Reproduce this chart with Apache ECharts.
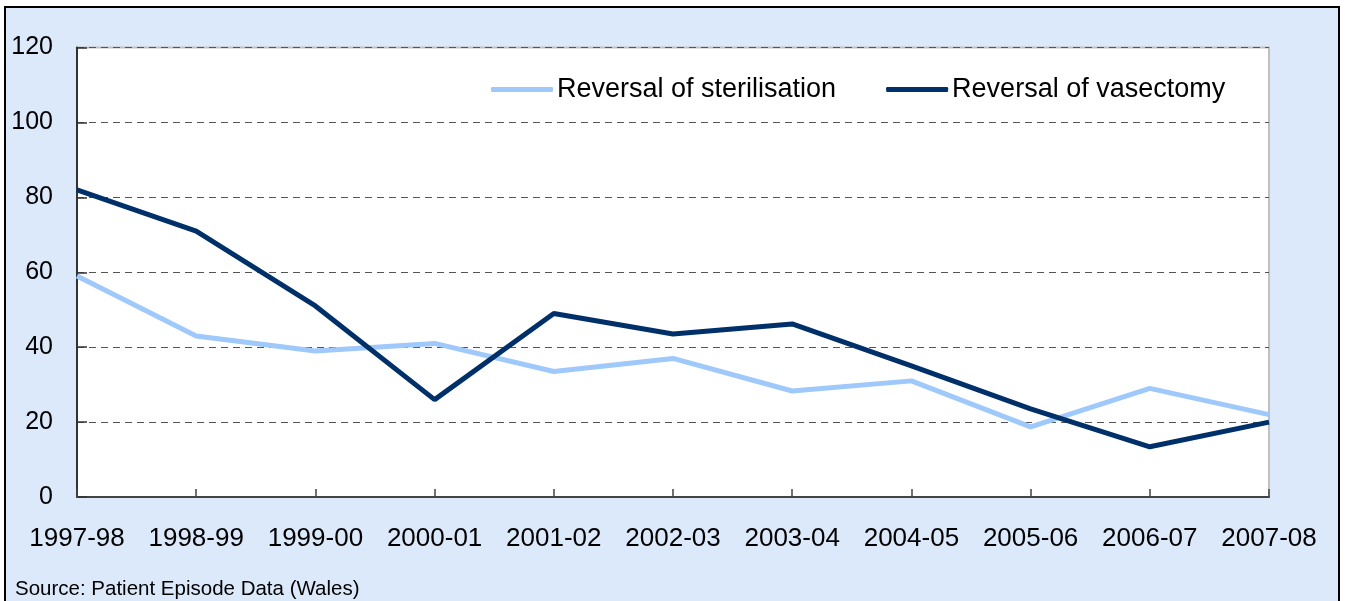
<!DOCTYPE html>
<html>
<head>
<meta charset="utf-8">
<script src="https://cdn.jsdelivr.net/npm/echarts@6/dist/echarts.min.js"></script>
<style>
    html, body { margin: 0; padding: 0; background: #fff; overflow: hidden; }
    #chart {
        position: absolute;
        left: 4px;
        top: 6px;
        width: 1332px;
        height: 600px;
        border: 2px solid #000;
    }
</style>
</head>
<body>
<div id="chart"></div>
<script>
const years = ['1997-98', '1998-99', '1999-00', '2000-01', '2001-02', '2002-03', '2003-04', '2004-05', '2005-06', '2006-07', '2007-08'];
const sterilisation = [59, 43, 39, 41, 33.5, 37, 28.3, 31, 18.7, 29, 22];
const vasectomy = [82, 71, 51, 26, 49, 43.5, 46.2, 35, 23.5, 13.4, 20];
const seriesNames = ['Reversal of sterilisation', 'Reversal of vasectomy'];
const sourceNote = 'Source: Patient Episode Data (Wales)';

const font = 'Arial, "Liberation Sans", sans-serif';

function init() {
    const option = {
        animation: false,
        backgroundColor: '#dce9fb',
        color: ['#9fc8fb', '#003069'],
        grid: {
            left: 71,
            top: 39.5,
            right: 69,
            bottom: 111,
            show: true,
            backgroundColor: '#fff',
            borderColor: '#c0c0c0',
            borderWidth: 2
        },
        legend: {
            left: 480,
            top: 63,
            icon: 'roundRect',
            itemWidth: 62,
            itemHeight: 5,
            itemGap: 50,
            data: seriesNames,
            textStyle: { fontSize: 27, color: '#000', fontFamily: font, padding: [0, 0, 0, -1] }
        },
        xAxis: {
            type: 'category',
            data: years,
            boundaryGap: false,
            axisLine: { lineStyle: { color: '#444', width: 2 } },
            axisTick: { inside: true, length: 8, interval: 0, lineStyle: { color: '#444', width: 1.5 } },
            axisLabel: { fontSize: 26, color: '#000', fontFamily: font, margin: 29, interval: 0 },
            splitLine: { show: false }
        },
        yAxis: {
            type: 'value',
            min: 0,
            max: 120,
            interval: 20,
            axisLine: { show: true, lineStyle: { color: '#333', width: 2 } },
            axisTick: { show: true, inside: true, length: 10, lineStyle: { color: '#333', width: 1.5 } },
            axisLabel: { fontSize: 25, color: '#000', fontFamily: font, margin: 24 },
            splitLine: { lineStyle: { color: '#555', type: [7, 5], width: 1 } }
        },
        graphic: [
            {
                type: 'text',
                left: 9,
                top: 571,
                style: { text: sourceNote, font: '20.5px ' + font, fill: '#000' }
            }
        ],
        series: [
            {
                name: seriesNames[0],
                type: 'line',
                data: sterilisation,
                symbol: 'none',
                lineStyle: { width: 5 }
            },
            {
                name: seriesNames[1],
                type: 'line',
                data: vasectomy,
                symbol: 'none',
                lineStyle: { width: 5 }
            }
        ]
    };
    const mychart = echarts.init(document.getElementById('chart'));
    mychart.setOption(option);
}
init();
</script>
</body>
</html>
